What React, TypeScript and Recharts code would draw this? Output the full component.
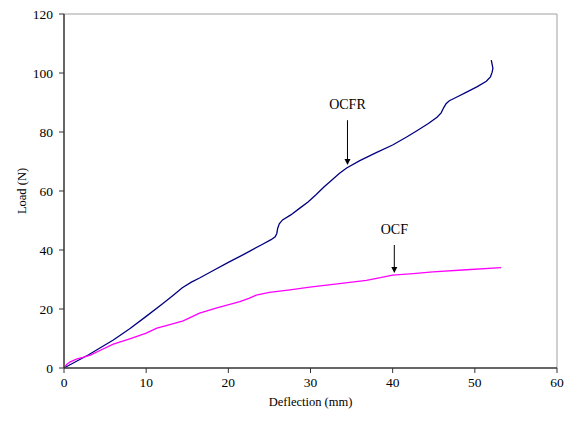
import { LineChart, Line, XAxis, YAxis, ReferenceLine } from "recharts"

const OCFR_X = [0, 3, 6, 8, 10, 12, 13.3, 14.4, 15.5, 16.5, 18, 20, 22, 24, 25.2, 25.7, 25.9, 26.0, 26.2, 26.6, 27.6, 28.7, 29.7, 30.7, 31.6, 32.5, 33.5, 34.4, 36, 38, 40, 41.7, 43, 44.3, 45.4, 45.9, 46.2, 46.5, 46.9, 47.7, 49, 50.3, 51.4, 51.9, 52.1, 52.2, 52.1, 52.0]
const OCFR_Y = [0, 4.5, 9.5, 13.3, 17.5, 21.8, 24.7, 27.2, 29.1, 30.5, 32.8, 35.8, 38.7, 41.7, 43.5, 44.5, 45.6, 47.3, 48.9, 50.2, 51.9, 54.2, 56.3, 58.8, 61.3, 63.5, 65.9, 67.8, 70.3, 73, 75.6, 78.3, 80.5, 82.8, 85, 86.5, 88.2, 89.6, 90.6, 91.7, 93.5, 95.4, 97.2, 98.7, 100.2, 101.6, 103, 104.4]

const OCF_X = [0, 0.3, 0.7, 1.5, 2.3, 3.2, 4.5, 6, 8, 10, 11.3, 13, 14.5, 15.6, 16.5, 18.5, 21.4, 22.5, 23.4, 25, 27.5, 29.9, 33, 36.8, 38.5, 40, 42.5, 44.9, 49, 53.2]
const OCF_Y = [0, 1.1, 2, 3, 3.6, 4.4, 6.1, 8.1, 9.9, 11.8, 13.5, 14.8, 16, 17.4, 18.6, 20.3, 22.5, 23.6, 24.7, 25.6, 26.5, 27.4, 28.4, 29.7, 30.6, 31.5, 32, 32.6, 33.3, 34]

const X_TICKS = [0, 10, 20, 30, 40, 50, 60]
const Y_TICKS = [0, 20, 40, 60, 80, 100, 120]

// arrow annotations: label, x, arrow start (load), arrow tip (load)
const NOTE_LABELS = ["OCFR", "OCF"]
const NOTE_X = [34.5, 40.2]
const NOTE_FROM = [84, 41.7]
const NOTE_TO = [68.8, 32.2]

const FONT = "'Liberation Serif', 'DejaVu Serif', 'Times New Roman', serif"

const toPoints = (xs: number[], ys: number[]) => xs.map((x, i) => ({ x, y: ys[i] }))

function Arrow(props: any) {
  const { x1, y1, x2, y2, label } = props
  return (
    <g>
      <line x1={x1} y1={y1} x2={x2} y2={y2 - 5} stroke="#000" strokeWidth={1} />
      <polygon points={`${x2 - 3},${y2 - 6} ${x2 + 3},${y2 - 6} ${x2},${y2}`} fill="#000" />
      <text x={x1} y={y1 - 11} textAnchor="middle" style={{ fontFamily: FONT, fontSize: 14 }} fill="#000">
        {label}
      </text>
    </g>
  )
}

const tick = { fontSize: 13.5, fill: "#000", style: { fontFamily: FONT } }

export default function App() {
  return (
    <div style={{ position: "absolute", left: 0, top: 0, background: "#fff", fontFamily: FONT }}>
      <LineChart
        width={575}
        height={430}
        margin={{ top: 14, right: 18, bottom: 22, left: 24 }}
        style={{ fontFamily: FONT }}
      >
        <XAxis
          type="number"
          dataKey="x"
          domain={[0, 60]}
          ticks={X_TICKS}
          tick={tick}
          tickSize={5}
          tickMargin={4}
          height={40}
          axisLine={{ stroke: "#333", strokeWidth: 1.5 }}
          tickLine={{ stroke: "#333" }}
          label={{ value: "Deflection (mm)", position: "insideBottom", offset: 2, style: { fontSize: 12.5, fontFamily: FONT, fill: "#000" } }}
        />
        <YAxis
          type="number"
          domain={[0, 120]}
          ticks={Y_TICKS}
          tick={tick}
          tickSize={5}
          tickMargin={6}
          width={40}
          axisLine={{ stroke: "#333", strokeWidth: 1.5 }}
          tickLine={{ stroke: "#333" }}
          label={{ value: "Load (N)", angle: -90, position: "insideLeft", offset: -2, style: { fontSize: 12.5, fontFamily: FONT, fill: "#000", textAnchor: "middle" } }}
        />
        <ReferenceLine y={120} stroke="#a0a0a0" strokeWidth={1} />
        <ReferenceLine x={60} stroke="#a0a0a0" strokeWidth={1} />
        <Line
          data={toPoints(OCFR_X, OCFR_Y)}
          dataKey="y"
          type="linear"
          stroke="#000080"
          strokeWidth={1.3}
          dot={false}
          isAnimationActive={false}
        />
        <Line
          data={toPoints(OCF_X, OCF_Y)}
          dataKey="y"
          type="linear"
          stroke="#ff00ff"
          strokeWidth={1.3}
          dot={false}
          isAnimationActive={false}
        />
        {NOTE_LABELS.map((label, i) => (
          <ReferenceLine
            key={label}
            segment={[
              { x: NOTE_X[i], y: NOTE_FROM[i] },
              { x: NOTE_X[i], y: NOTE_TO[i] },
            ]}
            shape={(p: any) => <Arrow {...p} label={label} />}
          />
        ))}
      </LineChart>
    </div>
  )
}
